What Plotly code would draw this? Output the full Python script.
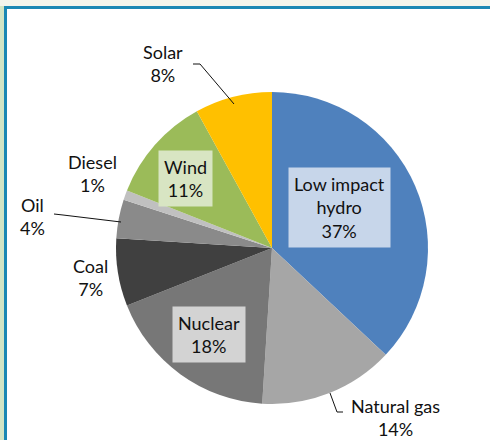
import plotly.graph_objects as go

labels = ["Low impact hydro", "Natural gas", "Nuclear", "Coal", "Oil", "Diesel", "Wind", "Solar"]
values = [37, 14, 18, 7, 4, 1, 11, 8]
label_text = ["Low impact<br>hydro", "Natural gas", "Nuclear", "Coal", "Oil", "Diesel", "Wind", "Solar"]
colors = ["#4f81bd", "#a6a6a6", "#777777", "#404040", "#8a8a8a", "#c0c0c0", "#9bbb59", "#ffc000"]

W, H = 490, 440
def px(x): return x / W
def py(y): return 1 - y / H

cx, cy, r = 272, 248, 156

fig = go.Figure(go.Pie(
    labels=labels, values=values, sort=False, direction="clockwise", rotation=0,
    marker=dict(colors=colors, line=dict(width=0)),
    textinfo="none", showlegend=False,
    domain=dict(x=[px(cx - r), px(cx + r)], y=[py(cy + r), py(cy - r)]),
))

# label placement (pixel centres) and box styles
pos = {
    "Low impact hydro": (339, 208, "#c7d6ea"),
    "Natural gas": (395, 417, None),
    "Nuclear": (209, 334, "#d3d3d3"),
    "Coal": (90, 277, None),
    "Oil": (32, 216, None),
    "Diesel": (92, 173, None),
    "Wind": (185, 178, "#d8e5c3"),
    "Solar": (163, 63, None),
}
annotations = []
for lab, txt, v in zip(labels, label_text, values):
    x, y, bg = pos[lab]
    a = dict(x=px(x), y=py(y), xref="paper", yref="paper", showarrow=False,
             text=f"{txt}<br>{v}%", font=dict(family="Lato", size=18, color="#111111"),
             align="center", xanchor="center", yanchor="middle")
    if bg:
        a.update(bgcolor=bg, borderpad=5)
    annotations.append(a)

def path(pts):
    d = "M " + " L ".join(f"{px(x)} {py(y)}" for x, y in pts)
    return dict(type="path", path=d, xref="paper", yref="paper",
                line=dict(color="#111111", width=1))

shapes = [
    # outer frame
    dict(type="rect", xref="paper", yref="paper", x0=0, x1=1, y0=py(6), y1=1,
         fillcolor="#f2f5ec", line=dict(width=0), layer="below"),
    dict(type="rect", xref="paper", yref="paper", x0=0, x1=px(4), y0=0, y1=py(6),
         fillcolor="#d2e5c5", line=dict(width=0), layer="below"),
    dict(type="rect", xref="paper", yref="paper", x0=px(4), x1=1, y0=py(9), y1=py(6),
         fillcolor="#1a88b4", line=dict(width=0)),
    dict(type="rect", xref="paper", yref="paper", x0=px(4), x1=px(7), y0=0, y1=py(6),
         fillcolor="#1a88b4", line=dict(width=0)),
    # leader lines
    path([(193, 64), (200, 64), (234, 104)]),
    path([(54, 214), (63, 215), (121, 222)]),
    path([(330, 393), (337, 412), (343, 412)]),
]

fig.update_layout(width=W, height=H, margin=dict(l=0, r=0, t=0, b=0),
                  paper_bgcolor="white", plot_bgcolor="white",
                  annotations=annotations, shapes=shapes)
fig.write_html("out.html", config={"displayModeBar": False},
               post_script="document.body.style.margin='0';document.body.style.overflow='hidden';")
